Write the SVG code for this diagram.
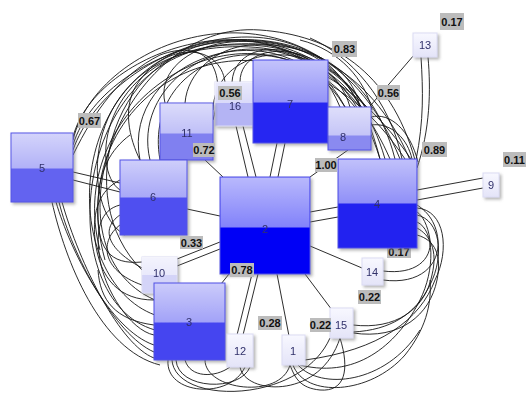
<svg xmlns="http://www.w3.org/2000/svg" width="526" height="399" viewBox="0 0 526 399">
<style>
.e{fill:none;stroke:#151515;stroke-width:0.9}
.s{stroke:#151515;stroke-width:0.9}
.nl{font-family:"Liberation Sans",Arial,sans-serif;font-size:11px;fill:#30306a;text-anchor:middle}
.lb{fill:#bcbcbc}
.lt{font-family:"Liberation Sans",Arial,sans-serif;font-size:11px;font-weight:bold;fill:#111;text-anchor:middle}
.bd{stroke:#5252e4;stroke-width:1}
.sm{stroke:#dcdcf4;stroke-width:1}
</style>
<defs>
<linearGradient id="ov" x1="0" y1="0" x2="0" y2="1">
<stop offset="0" stop-color="#fff" stop-opacity="0.72"/>
<stop offset="1" stop-color="#fff" stop-opacity="0.5"/>
</linearGradient>
<linearGradient id="smg" x1="0" y1="0" x2="0" y2="1">
<stop offset="0" stop-color="#f8f8ff"/>
<stop offset="1" stop-color="#e4e4f8"/>
</linearGradient>
<filter id="sh" x="-20%" y="-20%" width="150%" height="150%">
<feDropShadow dx="2" dy="2" stdDeviation="1.5" flood-color="#777" flood-opacity="0.55"/>
</filter>
</defs>
<rect width="526" height="399" fill="#fff"/>
<g id="connectors">
<line class="s" x1="73" y1="172" x2="120" y2="183"/>
<line class="s" x1="73" y1="180" x2="120" y2="192"/>
<line class="s" x1="187" y1="209" x2="220" y2="216"/>
<line class="s" x1="205" y1="160" x2="223" y2="177"/>
<line class="s" x1="277" y1="143" x2="270" y2="177"/>
<line class="s" x1="285" y1="143" x2="278" y2="177"/>
<line class="s" x1="236" y1="126" x2="248" y2="177"/>
<line class="s" x1="243" y1="126" x2="256" y2="177"/>
<line class="s" x1="348" y1="150" x2="310" y2="177"/>
<line class="s" x1="310" y1="212" x2="338" y2="207"/>
<line class="s" x1="310" y1="222" x2="338" y2="217"/>
<line class="s" x1="310" y1="246" x2="362" y2="268"/>
<line class="s" x1="305" y1="274" x2="332" y2="310"/>
<line class="s" x1="277" y1="274" x2="289" y2="336"/>
<line class="s" x1="252" y1="274" x2="237" y2="335"/>
<line class="s" x1="258" y1="274" x2="243" y2="335"/>
<line class="s" x1="220" y1="242" x2="177" y2="259"/>
<line class="s" x1="220" y1="249" x2="177" y2="266"/>
<line class="s" x1="221" y1="284" x2="229" y2="274"/>
<line class="s" x1="417" y1="190" x2="483" y2="178"/>
<line class="s" x1="417" y1="200" x2="483" y2="188"/>
<line class="s" x1="371" y1="105" x2="414" y2="55"/>
<path class="e" d="M421,57 C423,90 424,120 416,160"/>
<path class="e" d="M428,57 C431,90 430,130 417,168"/>
<path class="e" d="M73,140 C100,30 320,-40 400,159"/>
<path class="e" d="M73,145 C105,40 330,-30 410,160"/>
<path class="e" d="M73,150 C110,45 300,-20 360,107"/>
<path class="e" d="M73,137 C95,50 280,-15 345,107"/>
<path class="e" d="M140,160 C120,60 280,0 345,107"/>
<path class="e" d="M160,160 C140,50 300,-10 415,165"/>
<path class="e" d="M150,160 C125,55 310,-25 390,159"/>
<path class="e" d="M185,103 C190,40 300,10 340,107"/>
<path class="e" d="M165,103 C150,40 290,0 370,112"/>
<path class="e" d="M100,250 C60,100 250,-20 355,107"/>
<path class="e" d="M105,260 C55,80 280,-30 405,159"/>
<path class="e" d="M155,300 C40,250 120,20 260,30 C330,35 390,70 415,160"/>
<path class="e" d="M142,270 C70,200 110,40 240,40 C320,40 360,80 380,159"/>
<path class="e" d="M155,330 C50,300 70,50 230,45 C300,42 340,70 350,107"/>
<path class="e" d="M155,315 C60,280 60,70 210,42 C290,30 370,60 395,159"/>
<path class="e" d="M213,110 C215,40 330,30 371,118"/>
<path class="e" d="M232,82 C235,30 340,30 380,159"/>
<path class="e" d="M240,82 C240,40 320,35 365,107"/>
<path class="e" d="M225,82 C220,45 170,40 140,80 C120,105 130,140 140,160"/>
<path class="e" d="M213,120 C230,60 200,40 160,55 C120,75 95,110 73,155"/>
<path class="e" d="M120,190 C90,170 100,60 220,45 C300,38 350,60 360,107"/>
<path class="e" d="M125,235 C80,210 80,70 200,50 C290,35 360,70 385,159"/>
<path class="e" d="M371,117 C390,112 410,130 418,162"/>
<path class="e" d="M371,125 C392,122 408,140 412,159"/>
<path class="e" d="M300,40 C340,50 365,80 372,110"/>
<path class="e" d="M310,38 C350,55 390,100 402,159"/>
<path class="e" d="M56,202 C70,250 110,330 154,345"/>
<path class="e" d="M59,202 C72,255 115,335 154,352"/>
<path class="e" d="M62,202 C80,265 120,345 154,358"/>
<path class="e" d="M52,202 C65,260 100,350 160,365"/>
<path class="e" d="M120,205 C100,210 95,230 100,260 C105,290 130,330 154,335"/>
<path class="e" d="M120,215 C105,225 100,245 142,268"/>
<path class="e" d="M120,225 C100,240 100,270 142,285"/>
<path class="e" d="M142,262 C110,265 95,250 98,200 C100,170 110,150 130,135"/>
<path class="e" d="M154,300 C120,300 100,280 95,240 C92,210 100,190 120,180"/>
<path class="e" d="M154,325 C115,320 100,300 98,270"/>
<path class="e" d="M383,271 C415,275 432,260 430,240 C428,225 422,215 417,212"/>
<path class="e" d="M383,280 C420,285 440,265 438,240 C436,220 425,210 417,205"/>
<path class="e" d="M417,208 C445,210 450,250 435,280 C420,320 380,350 305,360"/>
<path class="e" d="M417,215 C440,220 445,255 430,285 C415,315 390,330 353,332"/>
<path class="e" d="M417,222 C435,230 435,270 420,300 C400,340 360,380 300,365"/>
<path class="e" d="M353,325 C395,330 425,310 432,275 C438,250 430,235 417,228"/>
<path class="e" d="M353,333 C400,340 430,315 437,280 C442,255 435,240 417,235"/>
<path class="e" d="M293,365 C305,398 370,395 405,355 C425,330 432,305 430,280"/>
<path class="e" d="M298,365 C320,390 385,385 420,330"/>
<path class="e" d="M340,338 C350,370 345,392 320,390 C300,388 295,378 290,365"/>
<path class="e" d="M168,360 C165,395 230,400 245,367"/>
<path class="e" d="M176,360 C178,390 240,392 250,367"/>
<path class="e" d="M205,360 C205,390 280,400 290,365"/>
<path class="e" d="M172,360 C175,405 300,405 330,338"/>
<path class="e" d="M240,367 C245,395 320,400 340,338"/>
<path class="e" d="M185,360 C190,378 215,378 230,367"/>
</g>
<g id="node-16" filter="url(#sh)"><rect x="215" y="82" width="38" height="44" fill="#b4b4f4" class="sm"/><rect x="215" y="82" width="38" height="21" fill="url(#ov)"/><text class="nl" x="235" y="110">16</text></g>
<g id="node-11" filter="url(#sh)"><rect x="160" y="103" width="53" height="57" fill="#8080f0" class="bd"/><rect x="160.5" y="103.5" width="52" height="30" fill="url(#ov)"/><text class="nl" x="187" y="137">11</text></g>
<g id="node-5" filter="url(#sh)"><rect x="11" y="133" width="62" height="69" fill="#6464f0" class="bd"/><rect x="11.5" y="133.5" width="61" height="35" fill="url(#ov)"/><text class="nl" x="42" y="172">5</text></g>
<g id="node-6" filter="url(#sh)"><rect x="120" y="160" width="67" height="75" fill="#5050f0" class="bd"/><rect x="120.5" y="160.5" width="66" height="37" fill="url(#ov)"/><text class="nl" x="153" y="201">6</text></g>
<g id="node-2" filter="url(#sh)"><rect x="220" y="177" width="90" height="97" fill="#0404f6" class="bd"/><rect x="220.5" y="177.5" width="89" height="50" fill="url(#ov)"/><text class="nl" x="265" y="233">2</text></g>
<g id="node-7" filter="url(#sh)"><rect x="253" y="60" width="75" height="83" fill="#2828f2" class="bd"/><rect x="253.5" y="60.5" width="74" height="42" fill="url(#ov)"/><text class="nl" x="290" y="108">7</text></g>
<g id="node-8" filter="url(#sh)"><rect x="328" y="107" width="43" height="43" fill="#8a8af0" class="bd"/><rect x="328.5" y="107.5" width="42" height="28" fill="url(#ov)"/><text class="nl" x="343" y="141">8</text></g>
<g id="node-10" filter="url(#sh)"><rect x="142" y="257" width="35" height="36" fill="#d4d4f8" class="sm"/><rect x="142" y="257" width="35" height="18" fill="url(#ov)"/><text class="nl" x="159" y="277">10</text></g>
<g id="node-3" filter="url(#sh)"><rect x="154" y="283" width="71" height="77" fill="#4545f0" class="bd"/><rect x="154.5" y="283.5" width="70" height="39" fill="url(#ov)"/><text class="nl" x="189" y="326">3</text></g>
<g id="node-12" filter="url(#sh)"><rect x="227" y="334" width="26" height="33" fill="url(#smg)" class="sm"/><text class="nl" x="240" y="355">12</text></g>
<g id="node-13" filter="url(#sh)"><rect x="413" y="33" width="24" height="24" fill="url(#smg)" class="sm"/><text class="nl" x="425" y="49">13</text></g>
<g id="node-9" filter="url(#sh)"><rect x="483" y="173" width="16" height="24" fill="url(#smg)" class="sm"/><text class="nl" x="491" y="189">9</text></g>
<g id="node-14" filter="url(#sh)"><rect x="362" y="258" width="21" height="27" fill="url(#smg)" class="sm"/><text class="nl" x="372" y="276">14</text></g>
<g id="node-15" filter="url(#sh)"><rect x="330" y="308" width="23" height="30" fill="url(#smg)" class="sm"/><text class="nl" x="341" y="329">15</text></g>
<g id="node-1" filter="url(#sh)"><rect x="282" y="335" width="23" height="30" fill="url(#smg)" class="sm"/><text class="nl" x="293" y="355">1</text></g>
<g id="edge-labels">
<rect class="lb" x="78" y="113" width="23" height="15"/><text class="lt" x="89.5" y="124.5">0.67</text>
<rect class="lb" x="218" y="86" width="24" height="14"/><text class="lt" x="230" y="97">0.56</text>
<rect class="lb" x="332" y="41" width="25" height="16"/><text class="lt" x="344.5" y="53">0.83</text>
<rect class="lb" x="440" y="13" width="24" height="17"/><text class="lt" x="452" y="25.5">0.17</text>
<rect class="lb" x="377" y="85" width="23" height="15"/><text class="lt" x="388.5" y="96.5">0.56</text>
<rect class="lb" x="193" y="143" width="22" height="14"/><text class="lt" x="204" y="154">0.72</text>
<rect class="lb" x="315" y="158" width="22" height="14"/><text class="lt" x="326" y="169">1.00</text>
<rect class="lb" x="422" y="142" width="25" height="15"/><text class="lt" x="434.5" y="153.5">0.89</text>
<rect class="lb" x="503" y="152" width="23" height="15"/><text class="lt" x="514.5" y="163.5">0.11</text>
<rect class="lb" x="387" y="244" width="24" height="14"/><text class="lt" x="399" y="256">0.17</text>
<rect class="lb" x="180" y="236" width="23" height="13"/><text class="lt" x="191.5" y="246.5">0.33</text>
<rect class="lb" x="230" y="263" width="24" height="14"/><text class="lt" x="242" y="274">0.78</text>
<rect class="lb" x="258" y="316" width="24" height="14"/><text class="lt" x="270" y="327">0.28</text>
<rect class="lb" x="358" y="290" width="23" height="14"/><text class="lt" x="369.5" y="301">0.22</text>
<rect class="lb" x="310" y="318" width="21" height="14"/><text class="lt" x="320.5" y="329">0.22</text>
</g>
<g id="node-4" filter="url(#sh)"><rect x="338" y="159" width="79" height="89" fill="#2020f0" class="bd"/><rect x="338.5" y="159.5" width="78" height="44" fill="url(#ov)"/><text class="nl" x="377" y="208">4</text></g>
</svg>
